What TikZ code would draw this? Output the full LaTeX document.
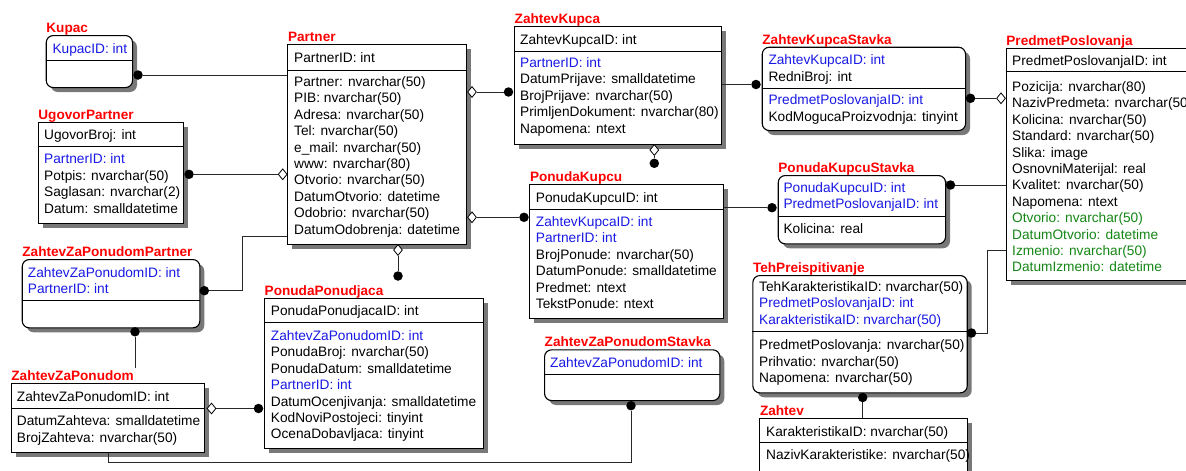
\documentclass[tikz,border=0pt]{standalone}
\usepackage{fontspec}
\setmainfont{Liberation Sans}
\usetikzlibrary{shapes.geometric}

\definecolor{fkblue}{RGB}{25,25,230}
\definecolor{augreen}{RGB}{20,135,20}
\definecolor{ttlred}{RGB}{255,0,0}
\definecolor{linegray}{RGB}{40,40,40}
\definecolor{shadowgray}{RGB}{120,120,120}

\newcommand\rowfont{\fontsize{13.7}{16}\selectfont}
\newcommand\ttlfont{\bfseries\fontsize{13.6}{16}\selectfont}

\tikzset{
  ent/.style={draw=black, line width=1.1pt, fill=white, anchor=north west, inner sep=0pt},
  rent/.style={ent, rounded corners=7pt},
  ent-sh/.style={fill=shadowgray},
  rent-sh/.style={fill=shadowgray, rounded corners=7pt},
  divider/.style={draw=black, line width=1pt},
  ttl/.style={anchor=base west, inner sep=0pt, text=ttlred, font=\ttlfont},
  pk/.style={anchor=base west, inner sep=0pt, font=\rowfont, text=black},
  fk/.style={pk, text=fkblue},
  au/.style={pk, text=augreen},
  conn/.style={draw=linegray, line width=0.9pt},
  dot/.style={circle, fill=black, inner sep=0pt, minimum size=9.5pt},
  dia/.style={diamond, draw=black, fill=white, inner sep=0pt, line width=0.8pt,
    minimum width=9pt, minimum height=11pt},
}

% shadow, box, divider and red title of one table
\newcommand\entity[8]{%
  \fill[#2-sh] ({#3+5},{#4+5}) rectangle ({#3+#5+5},{#4+#6+5});
  \node[#2, minimum width=#5pt, minimum height=#6pt] (#1) at (#3,#4) {};
  \draw[divider] ([yshift=-#7pt]#1.north west) -- ([yshift=-#7pt]#1.north east);
  \node[ttl] (#1-title) at ({#3+0.5},{#4-2.5}) {#8};
}
% a column of field rows, 16.4 apart
\newcommand\fields[4]{%
  \foreach \sty/\txt [count=\i] in {#4} {\node[\sty] (#1\i) at (#2,{#3+(\i-1)*16.4}) {\txt};}
}

\begin{document}
\begin{tikzpicture}[x=1pt, y=-1pt]
\useasboundingbox (0,0) rectangle (1186,471);
\clip (0,0) rectangle (1186,471);

% ---------- tables ----------
\entity{ku}{rent}{45.7}{35}{86.3}{52}{25.7}{Kupac}
\fields{ku-k}{52.3}{53.8}{fk/KupacID: int}

\entity{up}{ent}{37.7}{121.7}{145.6}{101}{24.3}{UgovorPartner}
\fields{up-k}{44}{139.8}{pk/UgovorBroj: int}
\fields{up-a}{44}{163.8}{fk/PartnerID: int, pk/Potpis: nvarchar(50), pk/Saglasan: nvarchar(2), pk/Datum: smalldatetime}

\entity{pa}{ent}{287.3}{44.3}{178.4}{200}{25.7}{Partner}
\fields{pa-k}{294}{62.5}{pk/PartnerID: int}
\fields{pa-a}{294}{86.5}{pk/Partner: nvarchar(50), pk/PIB: nvarchar(50), pk/Adresa: nvarchar(50), pk/Tel: nvarchar(50), pk/e\_mail: nvarchar(50), pk/www: nvarchar(80), pk/Otvorio: nvarchar(50), pk/DatumOtvorio: datetime, pk/Odobrio: nvarchar(50), pk/DatumOdobrenja: datetime}

\entity{zk}{ent}{514}{26}{207}{118}{25.7}{ZahtevKupca}
\fields{zk-k}{520}{44.1}{pk/ZahtevKupcaID: int}
\fields{zk-a}{520}{67.5}{fk/PartnerID: int, pk/DatumPrijave: smalldatetime, pk/BrojPrijave: nvarchar(50), pk/PrimljenDokument: nvarchar(80), pk/Napomena: ntext}

\entity{zks}{rent}{761.7}{46.7}{203.3}{83.3}{41.6}{ZahtevKupcaStavka}
\fields{zks-k}{768.3}{64.8}{fk/ZahtevKupcaID: int, pk/RedniBroj: int}
\fields{zks-a}{768.3}{104.8}{fk/PredmetPoslovanjaID: int, pk/KodMogucaProizvodnja: tinyint}

\entity{pp}{ent}{1005.7}{48.3}{220}{231.7}{23.4}{PredmetPoslovanja}
\fields{pp-k}{1012}{65.8}{pk/PredmetPoslovanjaID: int}
\fields{pp-a}{1012}{91.5}{pk/Pozicija: nvarchar(80), pk/NazivPredmeta: nvarchar(50), pk/Kolicina: nvarchar(50), pk/Standard: nvarchar(50), pk/Slika: image, pk/OsnovniMaterijal: real, pk/Kvalitet: nvarchar(50), pk/Napomena: ntext, au/Otvorio: nvarchar(50), au/DatumOtvorio: datetime, au/Izmenio: nvarchar(50), au/DatumIzmenio: datetime}

\entity{pku}{ent}{529.3}{184}{194}{134.3}{25.3}{PonudaKupcu}
\fields{pku-k}{535.7}{202.1}{pk/PonudaKupcuID: int}
\fields{pku-a}{535.7}{226.5}{fk/ZahtevKupcaID: int, fk/PartnerID: int, pk/BrojPonude: nvarchar(50), pk/DatumPonude: smalldatetime, pk/Predmet: ntext, pk/TekstPonude: ntext}

\entity{pks}{rent}{777.7}{175}{167.3}{68.3}{41.7}{PonudaKupcuStavka}
\fields{pks-k}{783.3}{192.1}{fk/PonudaKupcuID: int, fk/PredmetPoslovanjaID: int}
\fields{pks-a}{783.3}{233.1}{pk/Kolicina: real}

\entity{tp}{rent}{752.3}{275}{214.4}{117.3}{56.7}{TehPreispitivanje}
\fields{tp-k}{759}{291.5}{pk/TehKarakteristikaID: nvarchar(50), fk/PredmetPoslovanjaID: int, fk/KarakteristikaID: nvarchar(50)}
\fields{tp-a}{759}{349.8}{pk/PredmetPoslovanja: nvarchar(50), pk/Prihvatio: nvarchar(50), pk/Napomena: nvarchar(50)}

\entity{za}{ent}{759.3}{418.3}{207.4}{70}{24.4}{Zahtev}
\fields{za-k}{766}{436.5}{pk/KarakteristikaID: nvarchar(50)}
\fields{za-a}{766}{459.8}{pk/NazivKarakteristike: nvarchar(50)}

\entity{zzs}{rent}{544}{349.3}{175.3}{50.7}{25}{ZahtevZaPonudomStavka}
\fields{zzs-k}{550}{367.1}{fk/ZahtevZaPonudomID: int}

\entity{zzpp}{rent}{21.7}{259}{177.6}{68.3}{41.7}{ZahtevZaPonudomPartner}
\fields{zzpp-k}{27.7}{277.1}{fk/ZahtevZaPonudomID: int, fk/PartnerID: int}

\entity{zzp}{ent}{10.7}{383.3}{193.6}{68.4}{25}{ZahtevZaPonudom}
\fields{zzp-k}{16.7}{401.5}{pk/ZahtevZaPonudomID: int}
\fields{zzp-a}{16.7}{425.8}{pk/DatumZahteva: smalldatetime, pk/BrojZahteva: nvarchar(50)}

\entity{ppo}{ent}{264}{298.3}{219.3}{150}{24.4}{PonudaPonudjaca}
\fields{ppo-k}{270.7}{315.8}{pk/PonudaPonudjacaID: int}
\fields{ppo-a}{270.7}{340.5}{fk/ZahtevZaPonudomID: int, pk/PonudaBroj: nvarchar(50), pk/PonudaDatum: smalldatetime, fk/PartnerID: int, pk/DatumOcenjivanja: smalldatetime, pk/KodNoviPostojeci: tinyint, pk/OcenaDobavljaca: tinyint}

% ---------- relationship ends ----------
\node[dot] (ku-d)   at (138,75) {};
\node[dot] (up-d)   at (189,174.3) {};
\node[dia] (pa-m1)  at (282.7,174.3) {};
\node[dia] (pa-m2)  at (472,92) {};
\node[dot] (zk-d)   at (508.5,92) {};
\node[dia] (pa-m3)  at (472,217.3) {};
\node[dot] (pku-d1) at (524,217.3) {};
\node[dia] (pa-m4)  at (398,250) {};
\node[dot] (ppo-d1) at (398,276) {};
\node[dia] (zk-m)   at (654.3,150) {};
\node[dot] (pku-d2) at (654.3,163.3) {};
\node[dot] (zks-d1) at (756,84.5) {};
\node[dot] (zks-d2) at (970.5,98.3) {};
\node[dia] (pp-m)   at (1001,98.3) {};
\node[dot] (pks-d1) at (772,207.7) {};
\node[dot] (pks-d2) at (950.5,185) {};
\node[dot] (tp-d1)  at (971.5,333) {};
\node[dot] (tp-d2)  at (862.7,397.5) {};
\node[dot] (zzpp-d1) at (204.3,290.7) {};
\node[dot] (zzpp-d2) at (135,331.8) {};
\node[dia] (zzp-m)  at (211.5,408.5) {};
\node[dot] (ppo-d2) at (258.5,408.5) {};
\node[dot] (zzs-d)  at (631,405.7) {};

\coordinate (tp-bend)   at (987.3,250);
\coordinate (zzpp-bend) at (242,236.7);
\coordinate (zzpp-end)  at (135,367.7);
\coordinate (zzp-bend)  at (108.3,462.5);

% ---------- connectors ----------
\draw[conn] (ku-d) -- (ku-d -| pa.west);
\draw[conn] (up-d) -- (pa-m1);
\draw[conn] (pa-m2) -- (zk-d);
\draw[conn] (pa-m3) -- (pku-d1);
\draw[conn] (pa-m4) -- (ppo-d1);
\draw[conn] (zk-m) -- (pku-d2);
\draw[conn] (zks-d1) -- (zks-d1 -| zk.east);
\draw[conn] (zks-d2) -- (pp-m);
\draw[conn] (pks-d1) -- (pks-d1 -| pku.east);
\draw[conn] (pks-d2) -- (pks-d2 -| pp.west);
\draw[conn] (tp-d1) -| (tp-bend) -- (tp-bend -| pp.west);
\draw[conn] (tp-d2) -- (tp-d2 |- za.north);
\draw[conn] (zzpp-d1) -| (zzpp-bend) -- (zzpp-bend -| pa.west);
\draw[conn] (zzpp-d2) -- (zzpp-end);
\draw[conn] (zzp-m) -- (ppo-d2);
\draw[conn] (zzp.south -| zzp-bend) -- (zzp-bend) -| (zzs-d);
\end{tikzpicture}
\end{document}
